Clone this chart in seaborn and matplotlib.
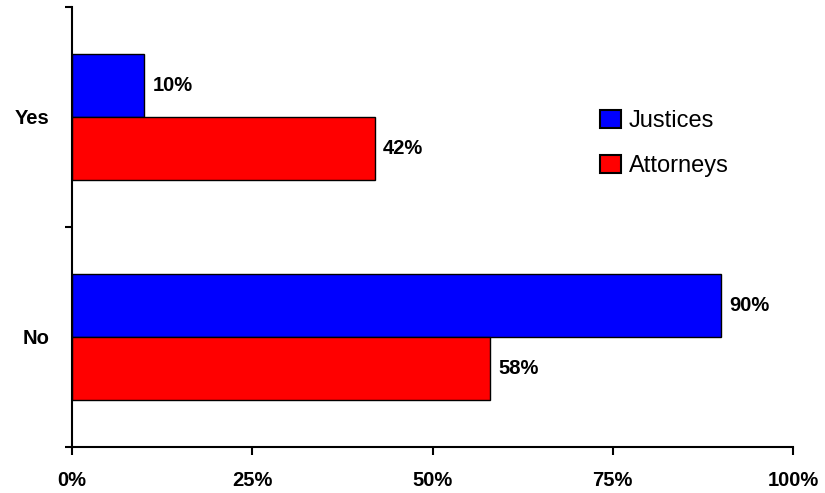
import pandas as pd
import matplotlib
matplotlib.use('Agg')
import matplotlib.pyplot as plt
import seaborn as sns
from matplotlib.ticker import FixedLocator

# Data
answers = ['Yes', 'No']
groups = ['Justices', 'Attorneys']
justices = [10, 90]
attorneys = [42, 58]
x_ticks = [0, 25, 50, 75, 100]
x_labels = ['0%', '25%', '50%', '75%', '100%']

df = pd.DataFrame({
    'answer': answers * 2,
    'group': [groups[0]] * len(answers) + [groups[1]] * len(answers),
    'pct': justices + attorneys,
})

sns.set_style('white')
plt.rcParams['font.family'] = ['Liberation Sans', 'DejaVu Sans']
plt.rcParams['text.color'] = 'black'
plt.rcParams['xtick.color'] = 'black'
plt.rcParams['ytick.color'] = 'black'

fig = plt.figure(figsize=(8.25, 4.93), dpi=100)
ax = fig.add_axes([0.0873, 0.0933, 0.874, 0.893])

sns.barplot(data=df, y='answer', x='pct', hue='group', orient='h',
            palette={'Justices': '#0000FF', 'Attorneys': '#FF0000'},
            saturation=1, width=0.575, edgecolor='black', linewidth=1, ax=ax)

for c in ax.containers:
    ax.bar_label(c, labels=[f'{v:.0f}%' for v in c.datavalues], padding=6,
                 fontsize=14.5, fontweight='bold', color='black')

ax.set_xlim(0, 100)
ax.set_ylim(1.5, -0.5)
ax.set_xticks(x_ticks)
ax.set_xticklabels(x_labels, fontsize=14.5, fontweight='bold')
ax.set_yticks([0, 1])
ax.set_yticklabels(answers, fontsize=14.5, fontweight='bold')
ax.yaxis.set_minor_locator(FixedLocator([-0.5, 0.5, 1.5]))
ax.tick_params(axis='y', which='major', length=0, pad=16)
ax.tick_params(axis='y', which='minor', left=True, length=5, width=1.5, direction='out')
ax.tick_params(axis='x', bottom=True, length=6, width=1.5, direction='out', pad=11)
ax.set_xlabel('')
ax.set_ylabel('')

for side in ['top', 'right']:
    ax.spines[side].set_visible(False)
for side in ['left', 'bottom']:
    ax.spines[side].set_color('black')
    ax.spines[side].set_linewidth(1.5)

ax.legend(title=None, frameon=False, loc='center left',
          bbox_to_anchor=(0.7156, 0.689), borderpad=0, fontsize=17,
          handlelength=0.9, handleheight=0.8, handletextpad=0.34,
          labelspacing=0.95)
for h in ax.get_legend().legend_handles:
    h.set_edgecolor('black')
    h.set_linewidth(1.5)

fig.savefig('out.png', dpi=100)
